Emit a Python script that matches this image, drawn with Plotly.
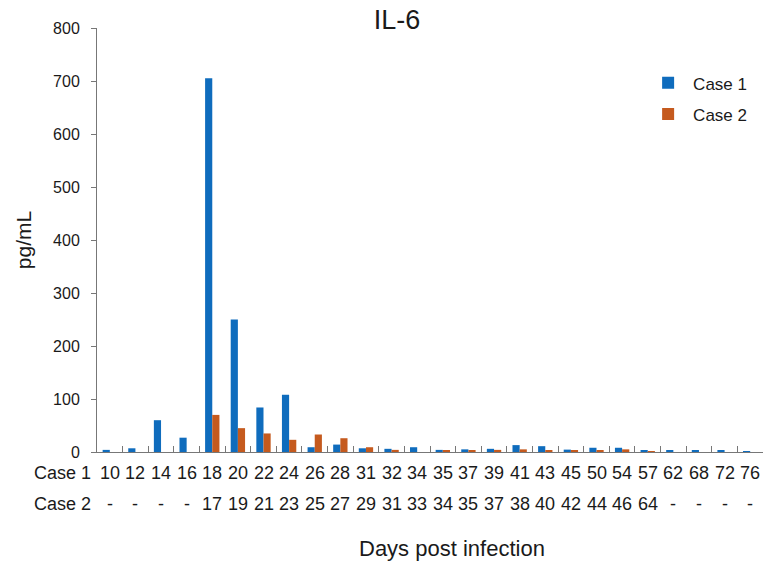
import plotly.graph_objects as go

case1_days = ["10", "12", "14", "16", "18", "20", "22", "24", "26", "28", "31", "32", "34",
              "35", "37", "39", "41", "43", "45", "50", "54", "57", "62", "68", "72", "76"]
case2_days = ["-", "-", "-", "-", "17", "19", "21", "23", "25", "27", "29", "31", "33",
              "34", "35", "37", "38", "40", "42", "44", "46", "64", "-", "-", "-", "-"]
case1_vals = [4, 7, 60, 27, 705, 250, 84, 108, 9, 14, 7, 6, 9,
              4, 5, 6, 13, 11, 4.5, 8, 8, 2.5, 2, 2, 2, 1.5]
case2_vals = [0, 0, 0, 0, 70, 45, 35, 23, 33, 26, 9, 4, 0,
              2, 3, 4, 5, 2, 3, 2, 5, 1.5, 0, 0, 0, 0]

FONT = "Arial, Liberation Sans, sans-serif"
TXT = "#1a1a1a"
PLOT_H = 424.0
ROW1 = -21 / PLOT_H
ROW2 = -52 / PLOT_H

fig = go.Figure()
fig.add_trace(go.Bar(x=case1_days, y=case1_vals, name="Case 1", marker_color="#0F6CBD",
                     marker_line_width=0, legendgroup="a"))
fig.add_trace(go.Bar(x=case1_days, y=case2_vals, name="Case 2", marker_color="#C55A1E",
                     marker_line_width=0, legendgroup="b"))

for i, (d1, d2) in enumerate(zip(case1_days, case2_days)):
    fig.add_annotation(x=i, xref="x", y=ROW1, yref="paper", text=d1, showarrow=False,
                       font=dict(size=18, family=FONT, color=TXT), yanchor="middle")
    fig.add_annotation(x=i, xref="x", y=ROW2, yref="paper", text=d2, showarrow=False,
                       font=dict(size=18, family=FONT, color=TXT), yanchor="middle")

for txt, yv in [("Case 1", ROW1), ("Case 2", ROW2)]:
    fig.add_annotation(x=-0.006, xref="paper", y=yv, yref="paper", text=txt, showarrow=False,
                       xanchor="right", yanchor="middle",
                       font=dict(size=18, family=FONT, color=TXT))

fig.add_annotation(x=(452 - 97) / 666, xref="paper", y=-96 / PLOT_H, yref="paper",
                   text="Days post infection", showarrow=False, yanchor="middle",
                   font=dict(size=22, family=FONT, color=TXT))

fig.update_layout(
    width=764, height=564,
    margin=dict(l=97, r=1, t=28, b=112),
    paper_bgcolor="white", plot_bgcolor="white",
    font=dict(family=FONT, color=TXT),
    bargap=0.44, bargroupgap=0, barmode="group",
    title=dict(text="IL-6", x=397 / 764, xanchor="center", xref="container",
               y=1 - 20 / 564, yanchor="middle", yref="container",
               font=dict(size=27, family=FONT, color=TXT)),
    showlegend=True,
    legend=dict(x=0.82, y=0.912, xanchor="left", yanchor="top",
                font=dict(size=17, family=FONT, color=TXT), itemwidth=40,
                tracegroupgap=6, bgcolor="rgba(0,0,0,0)"),
    xaxis=dict(type="category", showticklabels=False, tickson="boundaries",
               ticks="inside", ticklen=6, tickcolor="#777", showline=True,
               linecolor="#777", linewidth=1, showgrid=False, zeroline=False,
               range=[-0.5, 25.5]),
    yaxis=dict(range=[0, 800], tickvals=list(range(0, 801, 100)), ticks="outside",
               ticklen=5, tickcolor="#777", showline=True, linecolor="#777",
               linewidth=1, showgrid=False, zeroline=False, ticklabelstandoff=8,
               tickfont=dict(size=16, family=FONT, color=TXT),
               title=dict(text="pg/mL", font=dict(size=21, family=FONT, color=TXT),
                          standoff=15)),
)

fig.write_html("out.html")
